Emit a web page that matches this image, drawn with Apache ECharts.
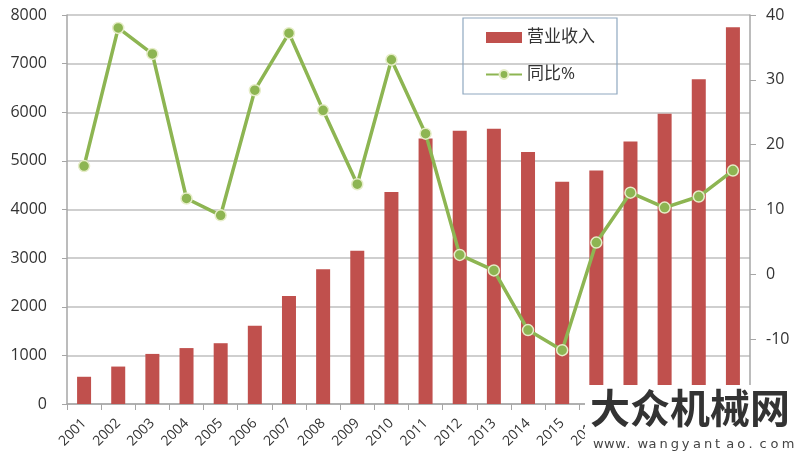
<!DOCTYPE html>
<html><head><meta charset="utf-8">
<script src="https://cdn.jsdelivr.net/npm/echarts@6/dist/echarts.min.js"></script>
<style>html,body{margin:0;padding:0;background:#fff}#c{width:800px;height:465px}</style>
</head><body><div id="c"></div>
<script>
const years = ['2001','2002','2003','2004','2005','2006','2007','2008','2009','2010','2011','2012','2013','2014','2015','2016','2017','2018','2019','2020'];
const revenue = [560,770,1030,1150,1250,1610,2220,2770,3150,4360,5460,5620,5660,5180,4570,4800,5400,5970,6680,7750];
const yoy = [16.7,38.0,34.0,11.7,9.1,28.4,37.2,25.3,13.9,33.1,21.7,3.0,0.6,-8.6,-11.7,4.9,12.6,10.3,12.0,16.0];
const wmTitle = '大众机械网';
const wmUrl = 'www.wangyantao.com';

const font = '"Open Sans", "Noto Sans CJK SC", sans-serif';
const chart = echarts.init(document.getElementById('c'));
const urlChars = wmUrl.split('').map((ch, i) => ({
  type: 'text', z: 101, left: 593 + i * 11.1, top: 438,
  style: {text: ch, font: '13px "DejaVu Sans", sans-serif', fill: '#444'}
}));
chart.setOption({
  animation: false,
  grid: {left: 67, right: 50, top: 15, bottom: 61},
  legend: {
    orient: 'vertical', left: 463, top: 18,
    padding: [11, 22, 11, 22], itemGap: 20,
    borderColor: '#8fa8c0', borderWidth: 1.2,
    itemWidth: 36, itemHeight: 11,
    textStyle: {fontSize: 17, color: '#333', fontFamily: font},
    data: [{name: '营业收入', icon: 'rect'}, {name: '同比%'}]
  },
  xAxis: {
    type: 'category', data: years,
    axisLine: {lineStyle: {color: '#a6a6a6', width: 1.5}},
    axisTick: {show: true, length: 6, lineStyle: {color: '#a6a6a6'}},
    axisLabel: {rotate: 45, fontSize: 14, color: '#333', fontFamily: font, margin: 17}
  },
  yAxis: [{
    type: 'value', min: 0, max: 8000, interval: 1000,
    axisLine: {show: true, lineStyle: {color: '#a6a6a6', width: 1.5}},
    axisTick: {show: true, length: 5, lineStyle: {color: '#a6a6a6'}},
    splitLine: {lineStyle: {color: '#bfbfbf', width: 1.5}},
    axisLabel: {fontSize: 16, color: '#333', fontFamily: font, margin: 20, formatter: v => String(v)}
  }, {
    type: 'value', min: -20, max: 40, interval: 10,
    axisLine: {show: true, lineStyle: {color: '#a6a6a6', width: 1.5}},
    axisTick: {show: true, length: 6, lineStyle: {color: '#a6a6a6'}},
    splitLine: {show: false},
    axisLabel: {fontSize: 16, color: '#333', fontFamily: font, margin: 16}
  }],
  series: [{
    name: '营业收入', type: 'bar', data: revenue, barWidth: 14,
    itemStyle: {color: '#c0504d'}
  }, {
    name: '同比%', type: 'line', yAxisIndex: 1, data: yoy,
    symbol: 'circle', symbolSize: 11,
    lineStyle: {color: '#8db552', width: 3.5},
    itemStyle: {color: '#8db552', borderColor: '#e6edc8', borderWidth: 1.5}
  }],
  graphic: [
    {type: 'rect', z: 100, shape: {x: 585, y: 385, width: 215, height: 80}, style: {fill: '#fff'}},
    {type: 'text', z: 101, left: 590, top: 388,
     style: {text: wmTitle, font: 'bold 40px "Noto Sans CJK SC", sans-serif', fill: '#333'}}
  ].concat(urlChars)
});
</script></body></html>
